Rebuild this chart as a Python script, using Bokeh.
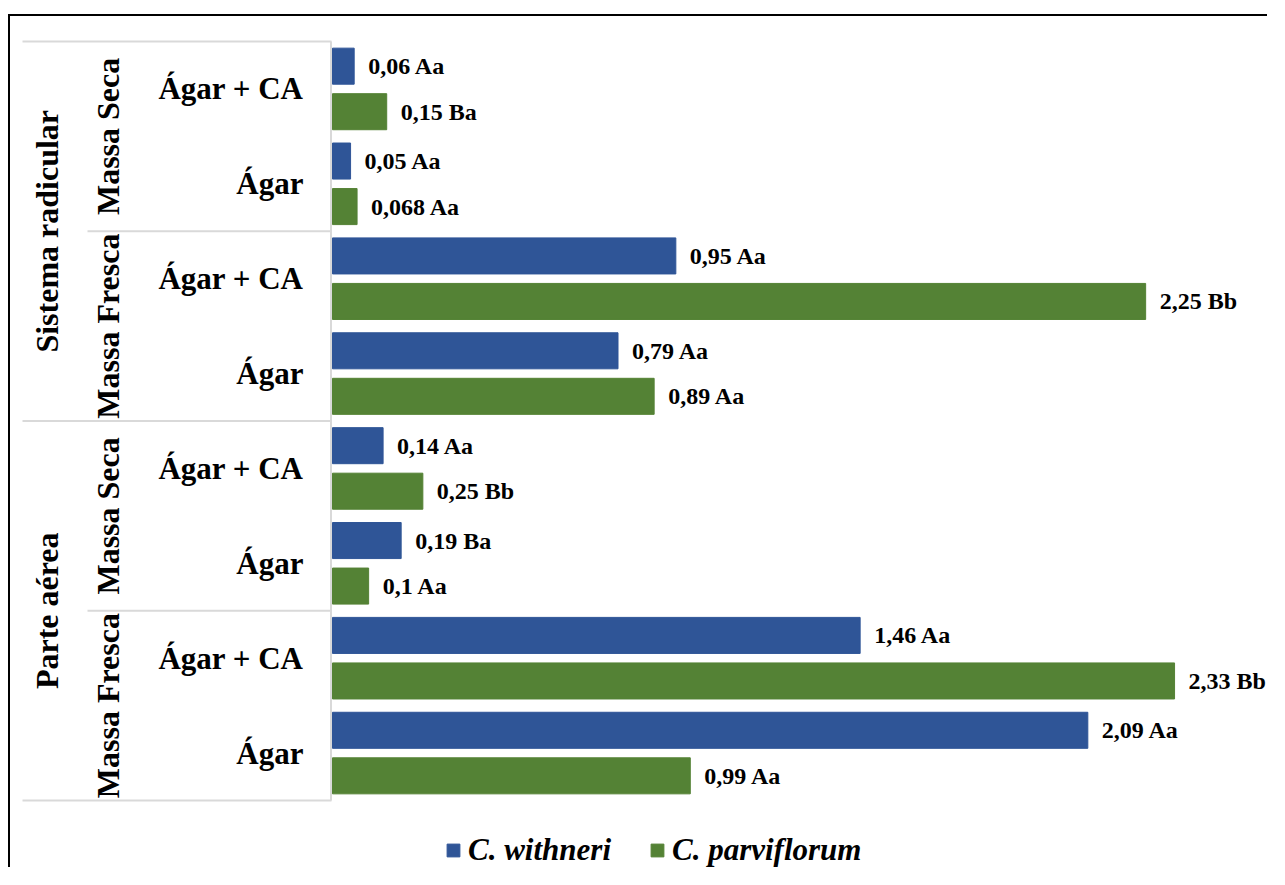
import math
from bokeh.plotting import figure
from bokeh.models import Range1d, ColumnDataSource, Legend, LegendItem
from bokeh.transform import dodge
from bokeh.core.properties import value
from bokeh.embed import file_html
from bokeh.resources import INLINE

# ---------------- data ----------------
parts = ["Sistema radicular"] * 4 + ["Parte aérea"] * 4
massas = ["Massa Seca", "Massa Seca", "Massa Fresca", "Massa Fresca"] * 2
meios = ["Ágar + CA", "Ágar"] * 4

series = ["C. withneri", "C. parviflorum"]
withneri = [0.06, 0.05, 0.95, 0.79, 0.14, 0.19, 1.46, 2.09]
withneri_lbl = ["0,06 Aa", "0,05 Aa", "0,95 Aa", "0,79 Aa", "0,14 Aa", "0,19 Ba", "1,46 Aa", "2,09 Aa"]
parviflorum = [0.15, 0.068, 2.25, 0.89, 0.25, 0.1, 2.33, 0.99]
parviflorum_lbl = ["0,15 Ba", "0,068 Aa", "2,25 Bb", "0,89 Aa", "0,25 Bb", "0,1 Aa", "2,33 Bb", "0,99 Aa"]

colors = ["#2F5597", "#548235"]

# ---------------- layout constants ----------------
W, H = 1259, 853
FRAME_LEFT_PX = 10          # picture x of frame left edge
ZERO_PX = 332               # picture x of value 0
PPU = 361.4                 # pixels per unit (x)
UNIT_PX = 94.875            # pixels per category row (y)
TOP_PAD_PX = 25             # space between frame top and first row
FONT = value("Liberation Serif")


def xd(px):
    return (px - ZERO_PX) / PPU


n = len(meios)
ypos = list(range(n - 1, -1, -1))                  # first row at the top
y_end = ypos[0] + 0.5 + TOP_PAD_PX / UNIT_PX
y_range = Range1d(y_end - H / UNIT_PX, y_end)
x_range = Range1d(xd(FRAME_LEFT_PX), xd(FRAME_LEFT_PX + W))

p = figure(width=W, height=H, x_range=x_range, y_range=y_range,
           x_axis_location=None, y_axis_location=None,
           toolbar_location=None, output_backend="svg", min_border=0)
p.outline_line_color = None
p.grid.grid_line_color = None
p.background_fill_color = "white"
p.border_fill_color = "white"
p.styles = {"border-top": "2px solid #000000", "border-left": "2px solid #000000",
            "margin-top": "14px", "margin-left": "8px"}

src = ColumnDataSource(dict(y=ypos, w=withneri, pv=parviflorum,
                            wl=withneri_lbl, pl=parviflorum_lbl, meio=meios))

OFF = 0.24
r1 = p.hbar(y=dodge("y", OFF), left=0, right="w", height=0.38,
            fill_color=colors[0], line_color=colors[0], source=src)
r2 = p.hbar(y=dodge("y", -OFF), left=0, right="pv", height=0.38,
            fill_color=colors[1], line_color=colors[1], source=src)

lbl_kw = dict(text_font=FONT, text_font_style="bold", text_font_size="24px",
              text_baseline="middle", text_align="left", x_offset=14, text_color="black")
p.text(x="w", y=dodge("y", OFF), text="wl", source=src, **lbl_kw)
p.text(x="pv", y=dodge("y", -OFF), text="pl", source=src, **lbl_kw)

# ---------------- hierarchical category labels ----------------
p.text(x=0, y="y", text="meio", source=src, x_offset=-29, text_align="right",
       text_baseline="middle", text_font=FONT, text_font_style="bold",
       text_font_size="31px", text_color="black")

mid_keys, mid_rows = [], {}
for pa, ma, yy in zip(parts, massas, ypos):
    if (pa, ma) not in mid_rows:
        mid_keys.append((pa, ma))
        mid_rows[(pa, ma)] = []
    mid_rows[(pa, ma)].append(yy)
mid_src = ColumnDataSource(dict(y=[sum(mid_rows[k]) / len(mid_rows[k]) for k in mid_keys],
                                t=[k[1] for k in mid_keys]))
p.text(x=0, y="y", text="t", source=mid_src, angle=math.pi / 2, x_offset=-225,
       text_align="center", text_baseline="middle", text_font=FONT,
       text_font_style="bold", text_font_size="32px", text_color="black")

top_keys, top_rows = [], {}
for pa, yy in zip(parts, ypos):
    if pa not in top_rows:
        top_keys.append(pa)
        top_rows[pa] = []
    top_rows[pa].append(yy)
top_src = ColumnDataSource(dict(y=[sum(top_rows[k]) / len(top_rows[k]) for k in top_keys],
                                t=top_keys))
p.text(x=0, y="y", text="t", source=top_src, angle=math.pi / 2, x_offset=-286,
       text_align="center", text_baseline="middle", text_font=FONT,
       text_font_style="bold", text_font_size="32px", text_color="black")

# ---------------- separator lines ----------------
sep_y, sep_x0 = [], []
for k in top_keys:
    sep_y.append(max(top_rows[k]) + 0.5); sep_x0.append(xd(22))
for k in mid_keys:
    if max(mid_rows[k]) != max(top_rows[k[0]]):
        sep_y.append(max(mid_rows[k]) + 0.5); sep_x0.append(xd(87))
sep_y.append(min(ypos) - 0.5); sep_x0.append(xd(22))
sep_src = ColumnDataSource(dict(y=sep_y, x0=sep_x0, x1=[xd(331)] * len(sep_y)))
p.segment(x0="x0", x1="x1", y0="y", y1="y", source=sep_src,
          line_color="#D9D9D9", line_width=2)
p.segment(x0=xd(330.5), x1=xd(330.5), y0=max(ypos) + 0.5, y1=min(ypos) - 0.5,
          line_color="#D9D9D9", line_width=2)

# ---------------- legend ----------------
legend = Legend(items=[LegendItem(label=series[0], renderers=[r1]),
                       LegendItem(label=series[1], renderers=[r2])],
                orientation="horizontal", location=(435, 1),
                label_text_font="Liberation Serif", label_text_font_style="bold italic",
                label_text_font_size="31px", label_text_color="black",
                glyph_width=16, glyph_height=16, label_standoff=7, spacing=38,
                padding=0, margin=0, border_line_color=None, background_fill_alpha=0)
p.add_layout(legend, "center")

open("out.html", "w").write(file_html(p, INLINE))
